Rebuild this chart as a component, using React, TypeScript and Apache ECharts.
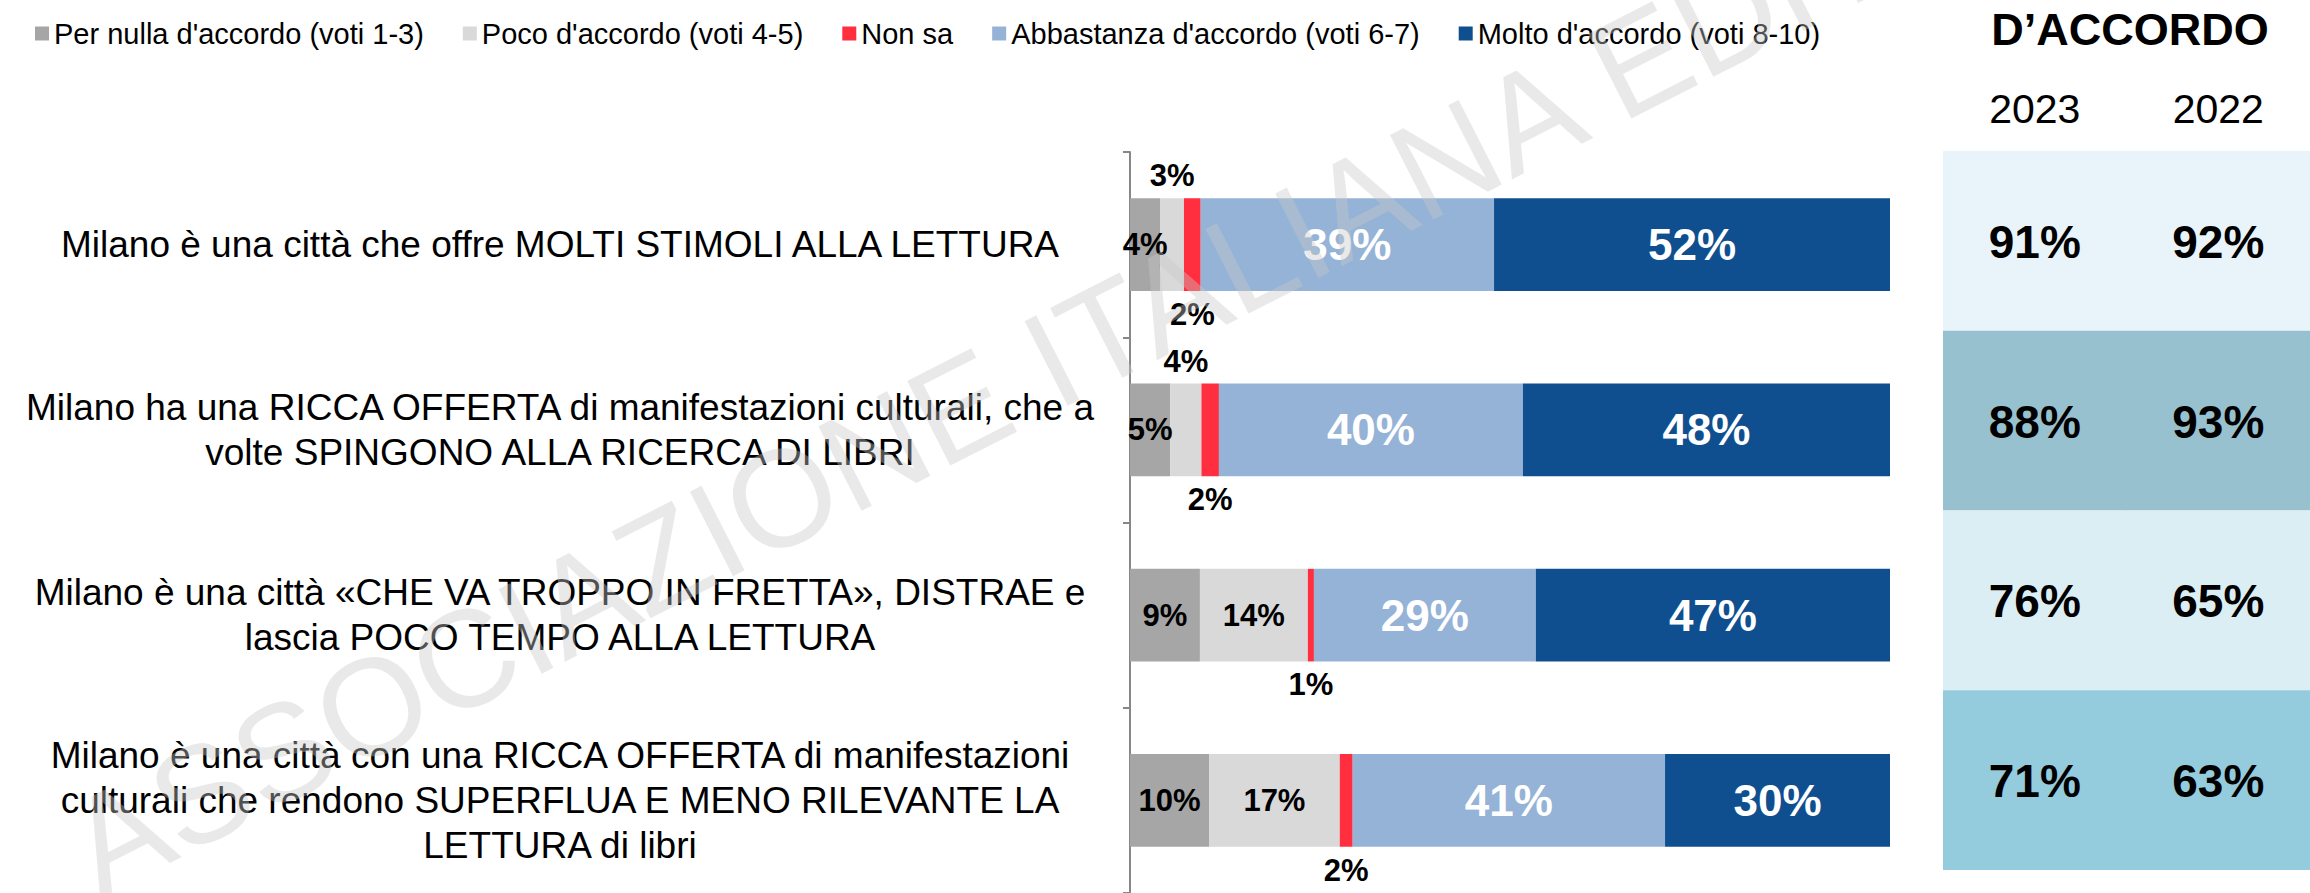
import React, { useEffect, useRef } from "react";
import * as echarts from "echarts";

const categories = [
  "Milano è una città che offre MOLTI STIMOLI ALLA LETTURA",
  "Milano ha una RICCA OFFERTA di manifestazioni culturali, che a\nvolte SPINGONO ALLA RICERCA DI LIBRI",
  "Milano è una città «CHE VA TROPPO IN FRETTA», DISTRAE e\nlascia POCO TEMPO ALLA LETTURA",
  "Milano è una città con una RICCA OFFERTA di manifestazioni\nculturali che rendono SUPERFLUA E MENO RILEVANTE LA\nLETTURA di libri",
];
const seriesNames = [
  "Per nulla d'accordo (voti 1-3)",
  "Poco d'accordo (voti 4-5)",
  "Non sa",
  "Abbastanza d'accordo (voti 6-7)",
  "Molto d'accordo (voti 8-10)",
];
const perNulla = [4.0, 5.3, 9.2, 10.4];
const poco = [3.1, 4.1, 14.2, 17.2];
const nonSa = [2.2, 2.3, 0.8, 1.7];
const abbastanza = [38.6, 40.0, 29.2, 41.1];
const molto = [52.1, 48.3, 46.6, 29.6];

const years = ["2023", "2022"];
const accordo2023 = [91, 88, 76, 71];
const accordo2022 = [92, 93, 65, 63];
const tableHeader = "D’ACCORDO";
const watermark = "ASSOCIAZIONE ITALIANA EDITORI";

const FONT = '"Liberation Sans", Arial, sans-serif';
const seriesColors = ["#A6A6A6", "#D9D9D9", "#FF2F3F", "#95B3D7", "#104F8F"];
const rowColors = ["#E8F4F9", "#98C1CF", "#DBEEF4", "#94CBDD"];

export default function App() {
  const ref = useRef<HTMLDivElement>(null);
  useEffect(() => {
    if (!ref.current) return;
    const chart = echarts.init(ref.current, undefined, { renderer: "svg" });
    const pct = (p: any) => Math.round(Number(p.value)) + "%";
    const darkLabel = { show: true, position: "inside", color: "#000", fontSize: 31, fontWeight: "bold", fontFamily: FONT, formatter: pct };
    const whiteLabel = { show: true, position: "inside", color: "#fff", fontSize: 44, fontWeight: "bold", fontFamily: FONT, formatter: pct };
    const stacks = [perNulla, poco, nonSa, abbastanza, molto];
    const series: any[] = stacks.map((vals, i) => {
      let data: any[] = vals;
      let label: any = i >= 3 ? whiteLabel : darkLabel;
      if (i === 1) {
        data = vals.map((v) => (v < 5 ? { value: v, label: { position: "top", distance: 7 } } : v));
      }
      if (i === 2) {
        label = { ...darkLabel, position: "bottom", distance: 8 };
      }
      return {
        name: seriesNames[i],
        type: "bar",
        stack: "tot",
        barWidth: "50%",
        xAxisIndex: 0,
        yAxisIndex: 0,
        itemStyle: { color: seriesColors[i] },
        label,
        data,
      };
    });
    const tableData: any[] = [];
    accordo2023.forEach((v, r) => tableData.push([0, r, v]));
    accordo2022.forEach((v, r) => tableData.push([1, r, v]));
    series.push({
      type: "custom",
      xAxisIndex: 1,
      yAxisIndex: 1,
      data: tableData,
      renderItem: (params: any, api: any) => {
        const col = api.value(0);
        const row = api.value(1);
        const c = api.coord([col, row]);
        const s = api.size([1, 1]);
        return {
          type: "group",
          children: [
            {
              type: "rect",
              shape: { x: c[0] - s[0] / 2, y: c[1] - s[1] / 2, width: s[0] + 1, height: s[1] },
              style: { fill: rowColors[row] },
            },
            {
              type: "text",
              x: c[0],
              y: c[1] + 1,
              style: {
                text: api.value(2) + "%",
                fill: "#000",
                fontSize: 46,
                fontWeight: "bold",
                fontFamily: FONT,
                align: "center",
                verticalAlign: "middle",
              },
            },
          ],
        };
      },
    });

    chart.setOption({
      animation: false,
      backgroundColor: "#fff",
      legend: {
        data: seriesNames,
        left: 30,
        top: 14,
        icon: "rect",
        itemWidth: 14,
        itemHeight: 14,
        itemGap: 39,
        textStyle: { fontSize: 29, color: "#000", fontFamily: FONT },
      },
      grid: [
        { left: 1130, top: 152, width: 760, height: 744 },
        { left: 1943, top: 151, width: 383, height: 719 },
      ],
      xAxis: [
        { type: "value", gridIndex: 0, min: 0, max: 100, show: false },
        {
          type: "category",
          gridIndex: 1,
          data: years,
          position: "top",
          axisLine: { show: false },
          axisTick: { show: false },
          axisLabel: { fontSize: 41, color: "#000", fontFamily: FONT, margin: 22 },
        },
      ],
      yAxis: [
        {
          type: "category",
          gridIndex: 0,
          data: categories,
          inverse: true,
          axisLine: { lineStyle: { color: "#878787", width: 2 } },
          axisTick: { show: true, length: 7, lineStyle: { color: "#878787", width: 2 } },
          axisLabel: {
            fontSize: 37,
            lineHeight: 45,
            color: "#000",
            fontFamily: FONT,
            align: "center",
            margin: 570,
          },
        },
        {
          type: "category",
          gridIndex: 1,
          data: categories,
          inverse: true,
          show: false,
        },
      ],
      graphic: [
        {
          type: "text",
          x: 2130,
          y: 29,
          style: {
            text: tableHeader,
            fill: "#000",
            fontSize: 45,
            fontWeight: "bold",
            fontFamily: FONT,
            align: "center",
            verticalAlign: "middle",
          },
        },
        {
          type: "text",
          x: 1087,
          y: 342,
          rotation: (27 * Math.PI) / 180,
          z: 100,
          silent: true,
          style: {
            text: watermark,
            fill: "rgba(200,200,200,0.4)",
            fontSize: 138,
            fontFamily: FONT,
            align: "center",
            verticalAlign: "middle",
          },
        },
      ],
      series,
    });
    return () => chart.dispose();
  }, []);
  return <div ref={ref} style={{ position: "fixed", left: 0, top: 0, width: 2310, height: 893 }} />;
}
